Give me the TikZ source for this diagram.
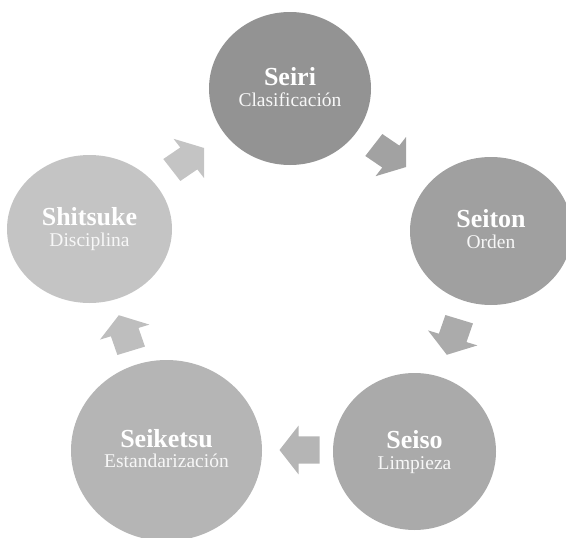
\documentclass[tikz,border=0pt]{standalone}
\usepackage{fontspec}
\setmainfont{Liberation Serif}
\usetikzlibrary{shapes.geometric}

% fills of the five stages and of the block arrows between them
\definecolor{cSeiri}{gray}{0.576}
\definecolor{cSeiton}{gray}{0.627}
\definecolor{cSeiso}{gray}{0.667}
\definecolor{cSeiketsu}{gray}{0.710}
\definecolor{cShitsuke}{gray}{0.769}
\definecolor{aOne}{gray}{0.635}
\definecolor{aTwo}{gray}{0.670}
\definecolor{aThree}{gray}{0.710}
\definecolor{aFour}{gray}{0.745}
\definecolor{aFive}{gray}{0.769}

% block arrow centred on a coordinate, pointing along the given angle
\newcommand{\cyclearrow}[3]{%
  \fill[#3, shift={(#1)}, yscale=0.935, rotate=#2]
    (-20,-14.5) -- (1,-14.5) -- (1,-26) -- (20,0) -- (1,26) -- (1,14.5)
    -- (-20,14.5) -- cycle;}

\begin{document}
\begin{tikzpicture}[x=1pt,y=1pt,
  stage/.style={ellipse, fill=#1, draw=none, inner sep=0pt},
  ttl/.style={anchor=base, text=white, inner sep=0pt,
    font=\fontsize{26}{28}\selectfont\bfseries},
  sub/.style={anchor=base, text=white!94!gray, inner sep=0pt,
    font=\fontsize{19.5}{22}\selectfont}]
\useasboundingbox (0,0) rectangle (566,-538);

% stages
\node[stage=cSeiri, minimum width=162, minimum height=153] (seiri) at (290,-88.5) {};
\node[stage=cSeiton, minimum width=162, minimum height=148] (seiton) at (491,-231) {};
\node[stage=cSeiso, minimum width=163, minimum height=157] (seiso) at (414.5,-451.5) {};
\node[stage=cSeiketsu, minimum width=191, minimum height=181] (seiketsu) at (166.5,-450.5) {};
\node[stage=cShitsuke, minimum width=165, minimum height=148] (shitsuke) at (89.5,-229) {};

% labels
\node[ttl] (seiriT) at ([yshift=3.5]seiri.center) {Seiri};
\node[sub] (seiriS) at ([yshift=-17.5]seiri.center) {Clasificación};
\node[ttl] (seitonT) at ([yshift=3.5]seiton.center) {Seiton};
\node[sub] (seitonS) at ([yshift=-17.5]seiton.center) {Orden};
\node[ttl] (seisoT) at ([yshift=3.5]seiso.center) {Seiso};
\node[sub] (seisoS) at ([yshift=-17.5]seiso.center) {Limpieza};
\node[ttl] (seiketsuT) at ([yshift=3]seiketsu.center) {Seiketsu};
\node[sub] (seiketsuS) at ([yshift=-17]seiketsu.center) {Estandarización};
\node[ttl] (shitsukeT) at ([yshift=3.5]shitsuke.center) {Shitsuke};
\node[sub] (shitsukeS) at ([yshift=-17.5]shitsuke.center) {Disciplina};

% arrows of the cycle
\coordinate (a1) at (390,-156);
\coordinate (a2) at (453,-337);
\coordinate (a3) at (299.5,-450);
\coordinate (a4) at (125,-333);
\coordinate (a5) at (188,-159);
\cyclearrow{a1}{-36}{aOne}
\cyclearrow{a2}{252}{aTwo}
\cyclearrow{a3}{180}{aThree}
\cyclearrow{a4}{108}{aFour}
\cyclearrow{a5}{36}{aFive}
\end{tikzpicture}
\end{document}
